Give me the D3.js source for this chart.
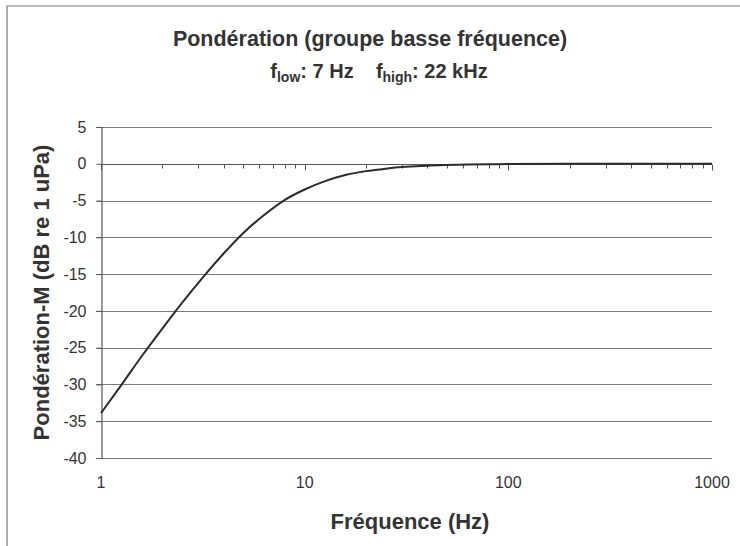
<!DOCTYPE html>
<html>
<head>
<meta charset="utf-8">
<script src="https://cdn.jsdelivr.net/npm/d3@7"></script>
<style>
  body { margin: 0; background: #fff; }
  svg { display: block; }
  text { font-family: "Liberation Sans", Arial, sans-serif; fill: #333; }
</style>
</head>
<body>
<svg id="chart"></svg>
<script>
// values
const freqs = [1, 1.25, 1.6, 2, 2.5, 3.15, 4, 5, 6.3, 8, 10, 12.5, 16, 20, 25, 31.5, 40, 50, 63, 80, 100, 200, 500, 1000];
const weights = [-33.9, -30.2, -26.0, -22.4, -18.9, -15.5, -12.2, -9.4, -7.0, -4.9, -3.5, -2.4, -1.5, -1.0, -0.66, -0.42, -0.26, -0.17, -0.1, -0.07, -0.04, -0.01, 0, 0];
const yTicks = [5, 0, -5, -10, -15, -20, -25, -30, -35, -40];
const xTicks = [1, 10, 100, 1000];

const width = 740, height = 546;
const margin = { left: 101, right: 28, top: 127, bottom: 88 };

const svg = d3.select('#chart').attr('width', width).attr('height', height);

// outer frame (only top and left edges fall inside the picture)
svg.append('path')
  .attr('d', `M7,${height} V6 H${width}`)
  .attr('fill', 'none')
  .attr('stroke', '#777')
  .attr('stroke-width', 1.2);

const x = d3.scaleLog().domain([1, 1000]).range([margin.left, width - margin.right]);
const y = d3.scaleLinear().domain([-40, 5]).range([height - margin.bottom, margin.top]);

// horizontal grid lines
svg.append('g')
  .selectAll('line')
  .data(yTicks.filter((d) => d !== 0))
  .join('line')
  .attr('x1', margin.left - 5)
  .attr('x2', x(1000))
  .attr('y1', (d) => Math.round(y(d)) + 0.5)
  .attr('y2', (d) => Math.round(y(d)) + 0.5)
  .attr('stroke', '#7a7a7a')
  .attr('stroke-width', 1.2);

// y axis
const yAxis = svg.append('g')
  .attr('transform', `translate(${margin.left + 0.5},0)`)
  .call(d3.axisLeft(y).tickValues(yTicks).tickSize(5).tickPadding(10).tickFormat((d) => String(d)));
yAxis.select('.domain').attr('stroke', '#555').attr('stroke-width', 1.2);
yAxis.selectAll('.tick line').attr('stroke', '#555');
yAxis.selectAll('.tick text')
  .style('font-family', '"Liberation Sans", Arial, sans-serif')
  .style('font-size', '16px')
  .attr('fill', '#333');

// x axis drawn at 0 dB with log minor ticks
const y0 = Math.round(y(0)) + 0.5;
svg.append('line')
  .attr('x1', margin.left).attr('x2', x(1000))
  .attr('y1', y0).attr('y2', y0)
  .attr('stroke', '#555').attr('stroke-width', 1.2);
svg.append('g')
  .selectAll('line')
  .data(x.ticks())
  .join('line')
  .attr('x1', (d) => Math.round(x(d)) + 0.5)
  .attr('x2', (d) => Math.round(x(d)) + 0.5)
  .attr('y1', y0)
  .attr('y2', (d) => y0 + (xTicks.includes(d) ? 6 : 4))
  .attr('stroke', '#555');

// x tick labels sit below the plot
svg.append('g')
  .selectAll('text')
  .data(xTicks)
  .join('text')
  .attr('x', (d) => x(d))
  .attr('y', 488)
  .attr('text-anchor', 'middle')
  .attr('font-size', '16px')
  .text((d) => d);

// curve
const line = d3.line()
  .x((d, i) => x(freqs[i]))
  .y((d) => y(d))
  .curve(d3.curveMonotoneX);
svg.append('path')
  .datum(weights)
  .attr('d', line)
  .attr('fill', 'none')
  .attr('stroke', '#2b2b2b')
  .attr('stroke-width', 2);

// titles
svg.append('text')
  .attr('x', 370).attr('y', 46)
  .attr('text-anchor', 'middle')
  .attr('font-size', '21.5px')
  .attr('font-weight', 'bold')
  .text('Pondération (groupe basse fréquence)');

const sub = svg.append('text')
  .attr('x', 379).attr('y', 78)
  .attr('text-anchor', 'middle')
  .attr('font-size', '20px')
  .attr('font-weight', 'bold');
sub.append('tspan').text('f');
sub.append('tspan').attr('dy', 4).attr('font-size', '14px').text('low');
sub.append('tspan').attr('dy', -4).text(': 7 Hz\u00a0\u00a0\u00a0\u00a0f');
sub.append('tspan').attr('dy', 4).attr('font-size', '14px').text('high');
sub.append('tspan').attr('dy', -4).text(': 22 kHz');

svg.append('text')
  .attr('x', 410).attr('y', 529)
  .attr('text-anchor', 'middle')
  .attr('font-size', '22px')
  .attr('font-weight', 'bold')
  .text('Fréquence (Hz)');

svg.append('text')
  .attr('transform', `translate(49,${(y(5) + y(-40)) / 2}) rotate(-90)`)
  .attr('text-anchor', 'middle')
  .attr('font-size', '22px')
  .attr('font-weight', 'bold')
  .text('Pondération-M (dB re 1 uPa)');
</script>
</body>
</html>
